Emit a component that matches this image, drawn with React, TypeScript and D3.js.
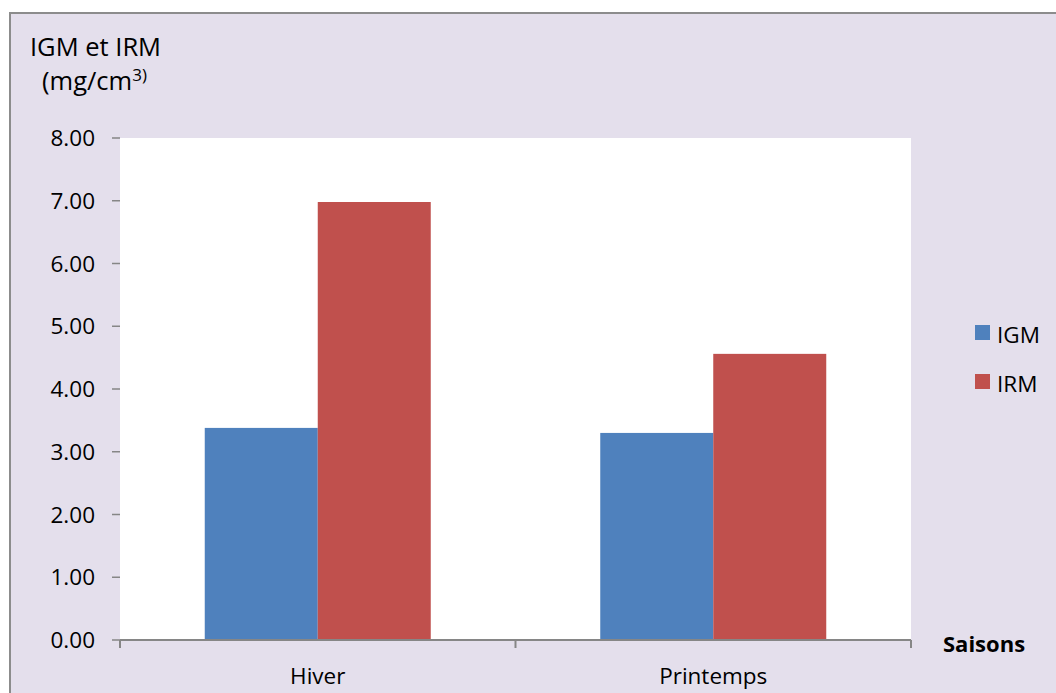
import React from "react";
import * as d3 from "d3";

// Seasons on the x axis and the two measured indices
const categories = ["Hiver", "Printemps"];
const seriesNames = ["IGM", "IRM"];
const igmValues = [3.38, 3.3];
const irmValues = [6.98, 4.56];
const yTickValues = [0, 1, 2, 3, 4, 5, 6, 7, 8];

const seriesColors: Record<string, string> = { IGM: "#4F81BD", IRM: "#C0504D" };

const W = 1056;
const H = 693;
const FONT = "'Open Sans', 'Liberation Sans', sans-serif";

export default function App() {
  const plot = { left: 120, right: 911, top: 138, bottom: 640 };

  const x = d3.scaleBand<string>().domain(categories).range([plot.left, plot.right]).padding(0);
  const x1 = d3
    .scaleBand<string>()
    .domain(seriesNames)
    .range([0, x.bandwidth()])
    .paddingInner(0)
    .paddingOuter(0.75);
  const y = d3.scaleLinear().domain([0, 8]).range([plot.bottom, plot.top]);

  const rows = categories.map((c, i) => ({ cat: c, IGM: igmValues[i], IRM: irmValues[i] }));
  const fmt = d3.format(".2f");
  const axisColor = "#868686";

  // x-axis ticks at band boundaries
  const xTicks = [plot.left, ...categories.map((c) => (x(c) as number) + x.bandwidth())];

  return (
    <svg
      width={W}
      height={H}
      style={{ position: "absolute", left: 0, top: 0, display: "block" }}
      fontFamily={FONT}
    >
      <rect x={0} y={0} width={W} height={H} fill="#ffffff" />
      <rect x={10} y={13} width={W + 20} height={H + 20} fill="#E4DFEC" stroke="#8C8C8C" strokeWidth={2} />

      {/* plot area */}
      <rect
        x={plot.left}
        y={plot.top}
        width={plot.right - plot.left}
        height={plot.bottom - plot.top}
        fill="#ffffff"
      />

      {/* bars */}
      {rows.map((r) => (
        <g key={r.cat} transform={`translate(${x(r.cat)},0)`}>
          {seriesNames.map((s) => {
            const v = (r as any)[s] as number;
            return (
              <rect
                key={s}
                x={x1(s)}
                y={y(v)}
                width={x1.bandwidth()}
                height={y(0) - y(v)}
                fill={seriesColors[s]}
              />
            );
          })}
        </g>
      ))}

      {/* y axis ticks and labels */}
      {yTickValues.map((t) => (
        <g key={t}>
          <line x1={plot.left - 8} x2={plot.left} y1={y(t)} y2={y(t)} stroke={axisColor} strokeWidth={1.5} />
          <text x={95} y={y(t) + 8} textAnchor="end" fontSize={22.5} fill="#000">
            {fmt(t)}
          </text>
        </g>
      ))}

      {/* x axis */}
      <line x1={plot.left} x2={plot.right} y1={plot.bottom} y2={plot.bottom} stroke={axisColor} strokeWidth={2} />
      {xTicks.map((tx, i) => (
        <line key={i} x1={tx} x2={tx} y1={plot.bottom} y2={plot.bottom + 8} stroke={axisColor} strokeWidth={2} />
      ))}
      {categories.map((c) => (
        <text
          key={c}
          x={(x(c) as number) + x.bandwidth() / 2}
          y={684}
          textAnchor="middle"
          fontSize={22.5}
          fill="#000"
        >
          {c}
        </text>
      ))}

      {/* axis titles */}
      <text x={30} y={56} fontSize={25.5} fill="#000">
        IGM et IRM
      </text>
      <text x={42} y={90} fontSize={25.5} fill="#000">
        (mg/cm
        <tspan fontSize={17} dy={-9}>
          3)
        </tspan>
      </text>
      <text x={943} y={652} fontSize={22} fontWeight="bold" fill="#000">
        Saisons
      </text>

      {/* legend */}
      {seriesNames.map((s, i) => (
        <g key={s} transform={`translate(975,${325 + i * 49})`}>
          <rect x={0} y={0} width={15} height={15} fill={seriesColors[s]} />
          <text x={22} y={18} fontSize={22.5} fill="#000">
            {s}
          </text>
        </g>
      ))}
    </svg>
  );
}
